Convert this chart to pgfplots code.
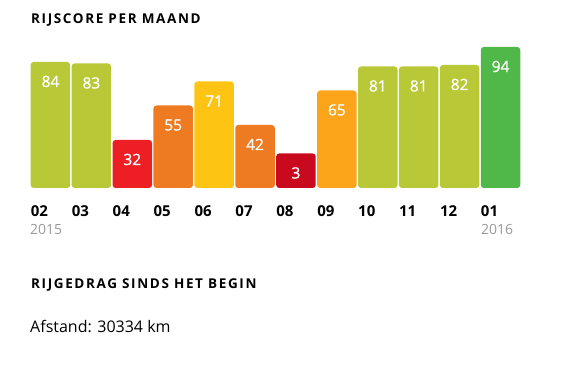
\documentclass[border=0pt]{standalone}
\usepackage{pgfplots}
\pgfplotsset{compat=1.18}
\usepackage{fontspec}
\setmainfont{Open Sans}
\newfontfamily\sbfont{Open Sans}[FakeBold=1]
\definecolor{lime}{HTML}{B8C837}
\definecolor{red1}{HTML}{EE1F24}
\definecolor{orange1}{HTML}{EE7B22}
\definecolor{yellow1}{HTML}{FDC414}
\definecolor{darkred}{HTML}{C8091E}
\definecolor{amber}{HTML}{FCA51B}
\definecolor{green1}{HTML}{50B848}
\definecolor{yeargray}{HTML}{999999}
\begin{document}
\begin{tikzpicture}[x=1pt,y=1pt]
\path[use as bounding box] (0,0) rectangle (578,364);
\node[anchor=base west,inner sep=0pt,font=\bfseries\fontsize{13.5}{14}\selectfont\addfontfeatures{LetterSpace=12}] at (31,340) {RIJSCORE PER MAAND};
\begin{axis}[
  at={(30pt,176pt)}, anchor=south west,
  scale only axis, width=491pt, height=150pt,
  xmin=-0.5, xmax=11.5, ymin=4, ymax=104,
  y filter/.expression={y+4},
  ybar, bar width=39.5pt, bar shift=0pt,
  axis line style={draw=none},
  tick style={draw=none},
  ytick=\empty,
  xtick={0,...,11},
  xticklabels={02,03,04,05,06,07,08,09,10,11,12,01},
  xticklabel style={font=\bfseries\fontsize{15}{15}\selectfont, anchor=base west, inner sep=0pt, xshift=-19.75pt, yshift=-24pt},
  point meta=explicit symbolic,
  nodes near coords,
  every node near coord/.append style={font=\sbfont\fontsize{15.5}{15}\selectfont, text=white, anchor=base, inner sep=0pt, yshift=-25pt},
  every axis plot/.append style={draw=none, rounded corners=3pt},
  clip=true,
]
\addplot[fill=lime] coordinates {(0,84) [84]};
\addplot[fill=lime] coordinates {(1,83) [83]};
\addplot[fill=red1] coordinates {(2,32) [32]};
\addplot[fill=orange1] coordinates {(3,55) [55]};
\addplot[fill=yellow1] coordinates {(4,71) [71]};
\addplot[fill=orange1] coordinates {(5,42) [42]};
\addplot[fill=darkred] coordinates {(6,23) [3]};
\addplot[fill=amber] coordinates {(7,65) [65]};
\addplot[fill=lime] coordinates {(8,81) [81]};
\addplot[fill=lime] coordinates {(9,81) [81]};
\addplot[fill=lime] coordinates {(10,82) [82]};
\addplot[fill=green1] coordinates {(11,94) [94]};
\end{axis}
\node[anchor=base west,inner sep=0pt,text=yeargray,font=\fontsize{14}{14}\selectfont] at (30,129) {2015};
\node[anchor=base west,inner sep=0pt,text=yeargray,font=\fontsize{14}{14}\selectfont] at (481,129) {2016};
\node[anchor=base west,inner sep=0pt,font=\bfseries\fontsize{13.5}{14}\selectfont\addfontfeatures{LetterSpace=12}] at (31,75) {RIJGEDRAG SINDS HET BEGIN};
\node[anchor=base west,inner sep=0pt,font=\fontsize{16}{16}\selectfont] at (30,31) {Afstand: 30334 km};
\end{tikzpicture}
\end{document}
